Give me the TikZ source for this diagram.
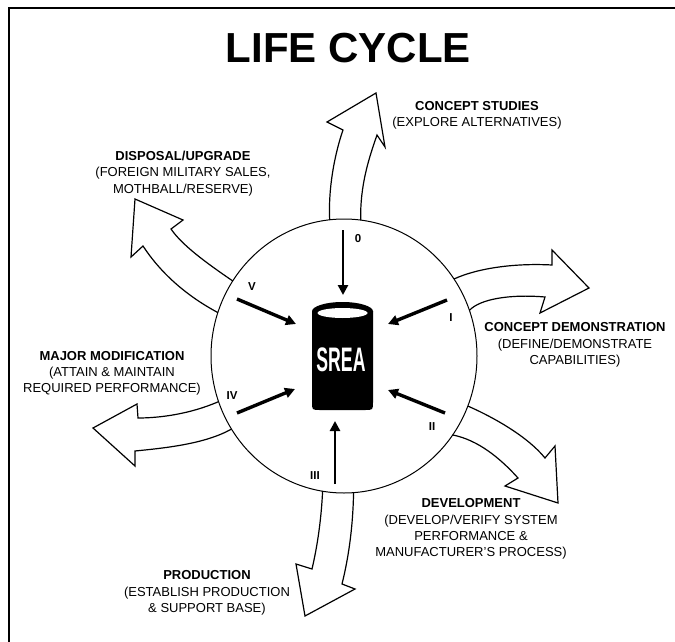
\documentclass[tikz,border=0pt]{standalone}
\usepackage{fontspec}
\setmainfont{Liberation Sans}
\usepackage{graphicx}
\usetikzlibrary{arrows.meta,shapes.geometric}
\begin{document}
\begin{tikzpicture}[x=1pt,y=-1pt,
  bigarrow/.style={line width=1.2pt, line join=miter},
  inarrow/.style={line width=3.4pt, -{Triangle[length=10pt,width=10pt]}},
  lbl/.style={font=\fontsize{13}{16.3}\selectfont, align=center, inner sep=0pt},
  roman/.style={font=\fontsize{11.5}{13}\selectfont\bfseries, inner sep=0pt},
]
\useasboundingbox (0,0) rectangle (675,642);
\draw[line width=2.5pt] (9,642) -- (9,8) -- (675,8);
\node[font=\fontsize{42}{50}\selectfont\bfseries, anchor=base, inner sep=0pt] (title) at (348.5,63) {LIFE CYCLE};

\node[ellipse, draw, line width=1pt, minimum width=266pt, minimum height=274pt, inner sep=0pt, outer sep=0pt] (circ) at (344,356) {};

% big arrows
\draw[bigarrow] (circ.96.7) .. controls (328,185) and (336,150) .. (343,130)
  -- (327,122) -- (376,93) -- (385,147) -- (377,135)
  .. controls (369,158) and (360,185) .. (circ.83.3);
\draw[bigarrow] (circ.146.3) .. controls (205,262) and (182,245) .. (171,229)
  -- (183,220) -- (135,199) -- (131,257) -- (143,246)
  .. controls (160,272) and (185,295) .. (circ.161.4);
\draw[bigarrow] (circ.35.1) .. controls (478,268) and (515,263) .. (552,265)
  -- (552,250) -- (589,288) -- (540,313) -- (545,297)
  .. controls (510,294) and (480,299) .. (circ.20.9);
\draw[bigarrow] (circ.-22) .. controls (495,418) and (528,437) .. (545,458)
  -- (555,446) -- (558,503) -- (505,486) -- (518,478)
  .. controls (500,458) and (478,440) .. (circ.-36.3);
\draw[bigarrow] (circ.-99) .. controls (321,525) and (316,552) .. (312,569)
  -- (296,564) -- (305,616) -- (355,589) -- (342,584)
  .. controls (349,556) and (353,525) .. (circ.-86.2);
\draw[bigarrow] (circ.200) .. controls (190,414) and (160,418) .. (138,418)
  -- (137,404) -- (93,428) -- (135,466) -- (135,451)
  .. controls (165,448) and (205,444) .. (circ.213.6);

% cylinder
\fill[black] (312,311) -- (312,402) .. controls (312,410) .. (320,410) -- (365,410)
  .. controls (373,410) .. (373,402) -- (373,311) -- cycle;
\fill[black] (342.5,311.5) ellipse [x radius=30.5, y radius=9.5];
\fill[white] (342.5,313) ellipse [x radius=25, y radius=5];
\node[text=white, font=\fontsize{34}{34}\selectfont\bfseries, inner sep=0pt] (srea) at (341,360) {\scalebox{0.52}[1]{SREA}};

% inner arrows
\coordinate (s0) at (343,230); \coordinate (e0) at (343,295);
\coordinate (s5) at (237,299); \coordinate (e5) at (296,324);
\coordinate (s1) at (447,300); \coordinate (e1) at (388,324);
\coordinate (s4) at (237,413); \coordinate (e4) at (295,389);
\coordinate (s2) at (445,413); \coordinate (e2) at (388,390);
\coordinate (s3) at (335,484); \coordinate (e3) at (335,421);
\draw[inarrow, line width=2.6pt] (s0) -- (e0);
\draw[inarrow] (s5) -- (e5);
\draw[inarrow] (s1) -- (e1);
\draw[inarrow] (s4) -- (e4);
\draw[inarrow] (s2) -- (e2);
\draw[inarrow, line width=2.8pt] (s3) -- (e3);

\node[roman] (r0) at (358,239) {0};
\node[roman] (r5) at (252,287) {V};
\node[roman] (r1) at (451,318) {I};
\node[roman] (r4) at (232,396) {IV};
\node[roman] (r2) at (432,427) {II};
\node[roman] (r3) at (315,476) {III};

% labels
\node[lbl] (cs) at (477,115) {\textbf{CONCEPT STUDIES}\\(EXPLORE ALTERNATIVES)};
\node[lbl] (du) at (183,173.5) {\textbf{DISPOSAL/UPGRADE}\\(FOREIGN MILITARY SALES,\\MOTHBALL/RESERVE)};
\node[lbl] (cd) at (575,345) {\textbf{CONCEPT DEMONSTRATION}\\(DEFINE/DEMONSTRATE\\CAPABILITIES)};
\node[lbl] (mm) at (112,373.5) {\textbf{MAJOR MODIFICATION}\\(ATTAIN \& MAINTAIN\\REQUIRED PERFORMANCE)};
\node[lbl] (pr) at (207,593) {\textbf{PRODUCTION}\\(ESTABLISH PRODUCTION\\\& SUPPORT BASE)};
\node[lbl] (dv) at (471,529) {\textbf{DEVELOPMENT}\\(DEVELOP/VERIFY SYSTEM\\PERFORMANCE \&\\MANUFACTURER'S PROCESS)};
\end{tikzpicture}
\end{document}
